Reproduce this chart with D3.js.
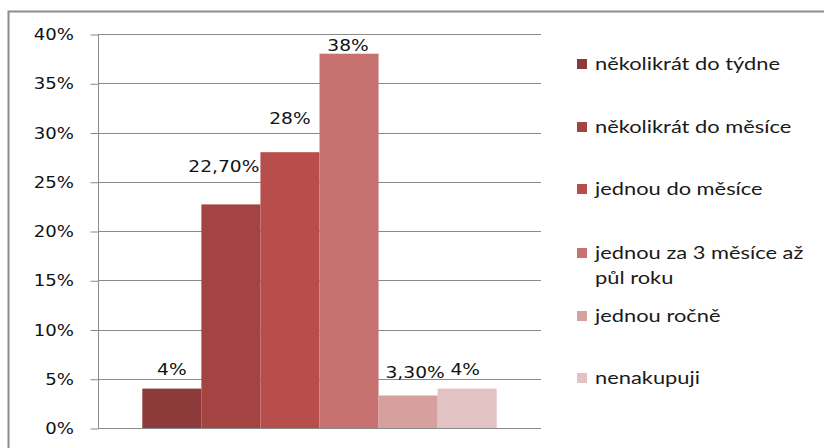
<!DOCTYPE html>
<html>
<head>
<meta charset="utf-8">
<script src="https://cdn.jsdelivr.net/npm/d3@7"></script>
<style>
  html, body { margin: 0; padding: 0; background: #fff; }
  svg { display: block; }
</style>
</head>
<body>
<svg id="chart" width="824" height="448"></svg>
<script>
// Purchase frequency shares
const categories = [
  "několikrát do týdne",
  "několikrát do měsíce",
  "jednou do měsíce",
  "jednou za 3 měsíce až půl roku",
  "jednou ročně",
  "nenakupuji"
];
const values = [4, 22.7, 28, 38, 3.3, 4];
const valueLabels = ["4%", "22,70%", "28%", "38%", "3,30%", "4%"];
const tickValues = [0, 5, 10, 15, 20, 25, 30, 35, 40];
const colors = ["#8c3a3a", "#a44442", "#b74e4b", "#c77271", "#d6a09f", "#e3c2c4"];

// legend lines (long entry wraps onto two lines)
const legendLines = [
  ["několikrát do týdne"],
  ["několikrát do měsíce"],
  ["jednou do měsíce"],
  ["jednou za 3 měsíce až", "půl roku"],
  ["jednou ročně"],
  ["nenakupuji"]
];

// hand-placed data label offsets (dx, dy from bar top)
const labelNudge = [[0, -13.5], [-7, -32], [0, -28], [-1, -2.5], [7, -17], [-2, -13.5]];

const svg = d3.select("#chart");
const plot = { left: 98, right: 541, top: 34, bottom: 428 };
const stretch = 1.13;

function stretchedText(g, x, y, str, opts) {
  const t = g.append("text")
    .attr("transform", `translate(${x},${y}) scale(${opts.sx || stretch},1)`)
    .attr("text-anchor", opts.anchor || "start")
    .attr("font-family", opts.family || "'DejaVu Sans', Verdana, sans-serif")
    .attr("font-size", opts.size || 16)
    .attr("fill", opts.fill || "#111")
    .text(str);
  return t;
}

// outer frame
svg.append("rect")
  .attr("x", 8.5).attr("y", 11.5)
  .attr("width", 900).attr("height", 500)
  .attr("fill", "none")
  .attr("stroke", "#8c8c8c")
  .attr("stroke-width", 2);

const y = d3.scaleLinear().domain([0, 40]).range([plot.bottom, plot.top]);

// bar band: one category holding all series, Excel-style 150% gap
const plotW = plot.right - plot.left;
const barW = plotW / (values.length + 1.5);
const x = d3.scaleBand()
  .domain(categories)
  .range([plot.left + barW * 0.75, plot.right - barW * 0.75])
  .padding(0);

// gridlines
svg.append("g")
  .selectAll("line")
  .data(tickValues)
  .join("line")
  .attr("x1", plot.left).attr("x2", plot.right)
  .attr("y1", d => Math.round(y(d)) + 0.5)
  .attr("y2", d => Math.round(y(d)) + 0.5)
  .attr("stroke", "#8a8a8a")
  .attr("stroke-width", 1);

// y axis
const axis = d3.axisLeft(y).tickValues(tickValues).tickSize(8).tickPadding(0).tickFormat(() => "");
const axisG = svg.append("g")
  .attr("transform", `translate(${plot.left + 0.5},0.5)`)
  .call(axis);
axisG.selectAll("path, line").attr("stroke", "#8a8a8a");
axisG.select(".domain").attr("d", `M0,${Math.round(y(40))}V${Math.round(y(0))}`);

const tickG = svg.append("g");
tickValues.forEach(v => {
  stretchedText(tickG, 74, y(v) + 6, v + "%", { anchor: "end", size: 16 });
});

// bars
svg.append("g")
  .selectAll("rect")
  .data(values)
  .join("rect")
  .attr("x", (d, i) => x(categories[i]))
  .attr("y", d => y(d))
  .attr("width", x.bandwidth())
  .attr("height", d => y(0) - y(d))
  .attr("fill", (d, i) => colors[i]);

// data labels
const labelG = svg.append("g");
values.forEach((v, i) => {
  const cx = x(categories[i]) + x.bandwidth() / 2 + labelNudge[i][0];
  const cy = y(v) + labelNudge[i][1];
  stretchedText(labelG, cx, cy, valueLabels[i], { anchor: "middle", size: 16.5 });
});

// legend
const legendTop = [64, 127, 189, 253, 316, 378];
const legendG = svg.append("g");
legendLines.forEach((lines, i) => {
  legendG.append("rect")
    .attr("x", 577).attr("y", legendTop[i] - 5)
    .attr("width", 10).attr("height", 10)
    .attr("fill", colors[i]);
  lines.forEach((ln, j) => {
    stretchedText(legendG, 595, legendTop[i] + 6 + j * 25, ln,
      { family: "Lato, 'Open Sans', sans-serif", size: 18, sx: 1.215, fill: "#1a1a1a" });
  });
});
</script>
</body>
</html>
